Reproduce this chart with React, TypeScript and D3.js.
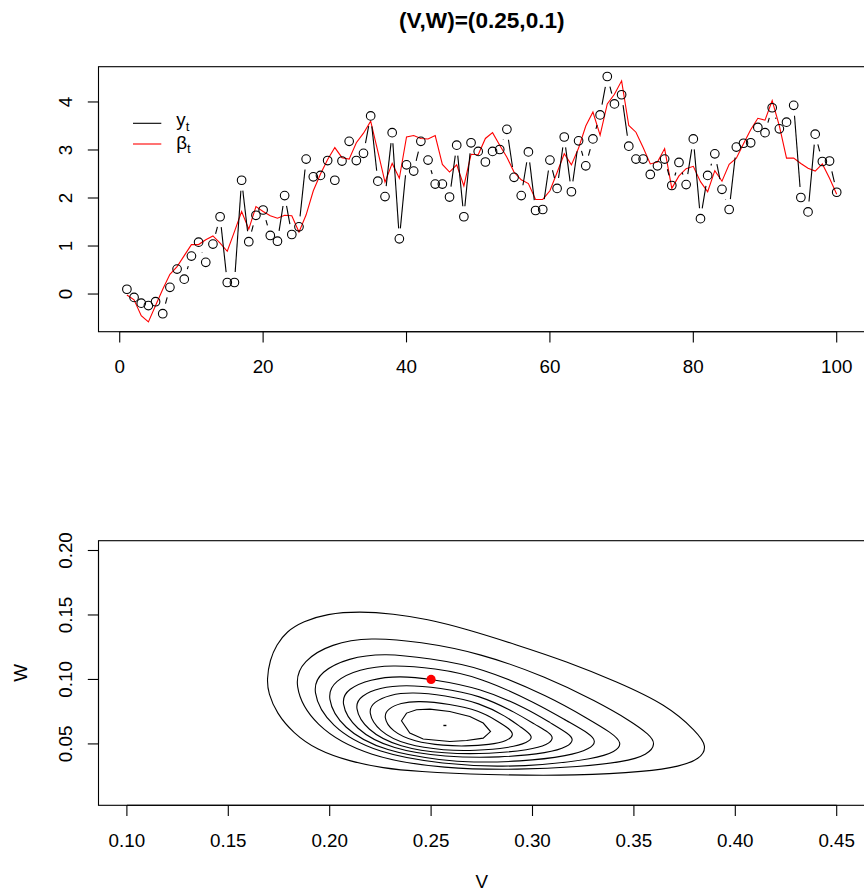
import React from "react";
import * as d3 from "d3";

const FONT = "'Liberation Sans', Arial, Helvetica, sans-serif";

// observed series y_t (circles, type "b")
const yObs = [
  0.10, -0.07, -0.19, -0.24, -0.16, -0.41, 0.14, 0.52, 0.31, 0.79,
  1.08, 0.66, 1.04, 1.61, 0.24, 0.24, 2.37, 1.09, 1.64, 1.75,
  1.22, 1.10, 2.05, 1.24, 1.40, 2.81, 2.44, 2.47, 2.78, 2.37,
  2.77, 3.18, 2.78, 2.93, 3.71, 2.35, 2.03, 3.36, 1.15, 2.69,
  2.56, 3.18, 2.79, 2.29, 2.29, 2.02, 3.10, 1.61, 3.15, 2.97,
  2.75, 2.97, 3.01, 3.43, 2.43, 2.05, 2.96, 1.74, 1.76, 2.79,
  2.20, 3.27, 2.13, 3.19, 2.67, 3.23, 3.73, 4.53, 3.96, 4.15,
  3.08, 2.81, 2.81, 2.49, 2.67, 2.81, 2.26, 2.74, 2.28, 3.23,
  1.57, 2.47, 2.92, 2.18, 1.76, 3.06, 3.14, 3.15, 3.47, 3.36,
  3.88, 3.44, 3.58, 3.93, 2.01, 1.71, 3.33, 2.76, 2.77, 2.12,
];

// state beta_t (red line)
const betaT = [
  -0.02, -0.12, -0.45, -0.58, -0.24, 0.10, 0.41, 0.57, 0.80, 1.03,
  1.03, 1.13, 1.21, 1.06, 0.89, 1.30, 1.72, 1.35, 1.82, 1.72,
  1.63, 1.58, 1.64, 1.63, 1.29, 1.65, 2.15, 2.50, 2.80, 3.05,
  2.84, 2.81, 3.15, 3.35, 3.60, 2.97, 2.33, 2.72, 2.41, 3.27,
  3.30, 3.24, 3.23, 3.30, 2.70, 2.54, 2.69, 2.25, 2.91, 2.90,
  3.24, 3.36, 3.10, 2.85, 2.54, 2.38, 2.30, 1.97, 1.97, 2.15,
  2.53, 2.92, 2.69, 3.04, 3.50, 3.79, 3.31, 3.96, 4.16, 4.44,
  3.51, 3.37, 3.05, 2.71, 2.75, 3.03, 2.20, 2.46, 2.61, 2.66,
  2.34, 2.13, 2.57, 2.35, 2.70, 2.83, 3.13, 3.42, 3.66, 3.62,
  4.03, 3.50, 2.83, 2.83, 2.72, 2.62, 2.56, 2.71, 2.41, 2.08,
];

const timeIdx = yObs.map((_, i) => i + 1);

const topXTicks = [0, 20, 40, 60, 80, 100];
const topYTicks = [0, 1, 2, 3, 4];
const vTicks = [0.1, 0.15, 0.2, 0.25, 0.3, 0.35, 0.4, 0.45];
const wTicks = [0.05, 0.1, 0.15, 0.2];

// grid ranges of the likelihood surface
const gridV = [0.1, 0.45];
const gridW = [0.01, 0.2];

const trueVW: [number, number] = [0.25, 0.1];
const mleVW: [number, number] = [0.2568, 0.0643];

// contour rings (V, W), outermost first
const ring1 = [
  [0.169, 0.1], [0.1705, 0.1153], [0.1738, 0.1269], [0.1787, 0.1372], [0.1869, 0.145],
  [0.1985, 0.151], [0.2149, 0.1528], [0.2313, 0.151], [0.2478, 0.1469], [0.2675, 0.1391],
  [0.2921, 0.1269], [0.3168, 0.114], [0.3414, 0.0984], [0.3661, 0.0804], [0.3809, 0.0596],
  [0.3863, 0.048], [0.3825, 0.0382], [0.3726, 0.0325], [0.3562, 0.0286], [0.3233, 0.0253],
  [0.2757, 0.026], [0.2428, 0.0286], [0.2264, 0.0312], [0.2099, 0.0364], [0.1935, 0.0454],
  [0.182, 0.0584], [0.1738, 0.0739], [0.1697, 0.0894],
];
const ring2 = [
  [0.1817, 0.0967], [0.1868, 0.1147], [0.2008, 0.1278], [0.2198, 0.1327], [0.2444, 0.1293],
  [0.274, 0.1205], [0.3069, 0.1019], [0.3316, 0.0829], [0.348, 0.0682], [0.3578, 0.0571],
  [0.3608, 0.0501], [0.357, 0.0416], [0.3447, 0.0359], [0.3233, 0.0323], [0.2937, 0.0299],
  [0.2568, 0.0307], [0.2193, 0.0395], [0.1917, 0.0637],
];
const ring3 = [
  [0.1907, 0.092], [0.1956, 0.1062], [0.209, 0.1167], [0.2272, 0.1205], [0.2494, 0.1161],
  [0.274, 0.1099], [0.3092, 0.086], [0.3268, 0.0699], [0.3391, 0.0586], [0.3444, 0.0506],
  [0.3411, 0.0439], [0.3307, 0.0385], [0.3036, 0.0334], [0.2839, 0.0323], [0.2568, 0.0342],
  [0.2237, 0.0423], [0.1996, 0.0633],
];
const ring4 = [
  [0.1981, 0.0866], [0.2024, 0.099], [0.2144, 0.1081], [0.2306, 0.1114], [0.2518, 0.1087],
  [0.274, 0.1021], [0.3028, 0.0808], [0.3172, 0.0676], [0.3283, 0.0579], [0.3316, 0.0519],
  [0.3283, 0.0462], [0.3184, 0.0408], [0.2937, 0.0361], [0.2691, 0.0357], [0.2568, 0.0371],
  [0.2274, 0.0437], [0.2059, 0.0618],
];
const ring5 = [
  [0.205, 0.0827], [0.209, 0.0928], [0.2198, 0.1002], [0.2346, 0.1029], [0.2499, 0.1003],
  [0.274, 0.0935], [0.2973, 0.0775], [0.309, 0.0662], [0.3179, 0.0579], [0.3205, 0.0532],
  [0.3174, 0.0478], [0.3085, 0.0431], [0.2839, 0.0392], [0.2568, 0.0398], [0.2309, 0.0455],
  [0.212, 0.0612],
];
const ring6 = [
  [0.2119, 0.0788], [0.2153, 0.0874], [0.2245, 0.0936], [0.2371, 0.0959], [0.2543, 0.0936],
  [0.274, 0.0879], [0.2923, 0.0738], [0.3014, 0.0649], [0.3085, 0.0586], [0.3105, 0.0545],
  [0.3076, 0.0493], [0.2987, 0.0454], [0.279, 0.0423], [0.2568, 0.0423], [0.2343, 0.0472],
  [0.2179, 0.0606],
];
const ring7 = [
  [0.2187, 0.0749], [0.2216, 0.0825], [0.2296, 0.0882], [0.2405, 0.0902], [0.2568, 0.0877],
  [0.274, 0.0819], [0.2873, 0.0711], [0.2942, 0.063], [0.3008, 0.0558], [0.2977, 0.0509],
  [0.2888, 0.047], [0.2716, 0.0447], [0.2568, 0.0449], [0.2377, 0.0489], [0.2238, 0.0599],
];
const ring8 = [
  [0.2264, 0.0711], [0.2287, 0.0773], [0.2349, 0.0818], [0.2435, 0.0835], [0.2592, 0.0811],
  [0.274, 0.0757], [0.2824, 0.068], [0.2888, 0.0617], [0.2909, 0.0571], [0.2878, 0.0524],
  [0.279, 0.0493], [0.2666, 0.0482], [0.2568, 0.0486], [0.2416, 0.0516], [0.2304, 0.0598],
];
const ring9 = [
  [0.2354, 0.068], [0.2379, 0.0739], [0.2428, 0.0765], [0.2494, 0.077], [0.2592, 0.0752],
  [0.2691, 0.0713], [0.2757, 0.0662], [0.2793, 0.0596], [0.2757, 0.0545], [0.2675, 0.0527],
  [0.2592, 0.0519], [0.2461, 0.0538], [0.2395, 0.0584],
];
const contourRings = [ring1, ring2, ring3, ring4, ring5, ring6, ring7, ring8, ring9];

// R style axis range: data range padded 4% each side
const pad4 = (lo: number, hi: number) => {
  const d = (hi - lo) * 0.04;
  return [lo - d, hi + d];
};

export default function App() {
  const width = 864;
  const height = 893;
  const fs = 18.8;

  // plot regions
  const top = { left: 98.5, right: 865.1, top: 66.7, bottom: 331.7 };
  const bot = { left: 98.5, right: 865.1, top: 540.7, bottom: 805.3 };

  const xT = d3.scaleLinear().domain(pad4(1, timeIdx.length)).range([top.left, top.right]);
  const allY = yObs.concat(betaT);
  const yT = d3.scaleLinear().domain(pad4(d3.min(allY)!, d3.max(allY)!)).range([top.bottom, top.top]);
  const xB = d3.scaleLinear().domain(pad4(gridV[0], gridV[1])).range([bot.left, bot.right]);
  const yB = d3.scaleLinear().domain(pad4(gridW[0], gridW[1])).range([bot.bottom, bot.top]);

  // type = "b": segments with gaps around the points
  const gap = 10.5;
  const pts = timeIdx.map((t, i) => [xT(t), yT(yObs[i])]);
  const segs: number[][] = [];
  for (let i = 0; i < pts.length - 1; i++) {
    const [x0, y0] = pts[i];
    const [x1, y1] = pts[i + 1];
    const dx = x1 - x0, dy = y1 - y0;
    const L = Math.hypot(dx, dy);
    if (L > 2 * gap) {
      const ux = dx / L, uy = dy / L;
      segs.push([x0 + ux * gap, y0 + uy * gap, x1 - ux * gap, y1 - uy * gap]);
    }
  }

  const betaLine = d3.line<number>()
    .x((_, i) => xT(timeIdx[i]))
    .y((d) => yT(d));

  // smooth the read-off rings; innermost one is a coarse polygon
  const ringLine = d3.line<number[]>()
    .x((d) => xB(d[0]))
    .y((d) => yB(d[1]))
    .curve(d3.curveBasisClosed);
  const polyLine = d3.line<number[]>()
    .x((d) => xB(d[0]))
    .y((d) => yB(d[1]))
    .curve(d3.curveLinearClosed);

  const tick = 10.7;
  const f2 = d3.format(".2f");

  return (
    <div style={{ position: "absolute", left: 0, top: 0 }}>
      <svg width={width} height={height} style={{ display: "block", background: "#fff" }} fontFamily={FONT}>
        <rect x={0} y={0} width={width} height={height} fill="#fff" />

        {/* title */}
        <text x={(top.left + top.right) / 2} y={28} textAnchor="middle" fontWeight="bold" fontSize={22.6}>
          (V,W)=(0.25,0.1)
        </text>

        {/* ---------- top panel ---------- */}
        <g>
          <path d={betaLine(betaT) || ""} fill="none" stroke="#ff0000" strokeWidth={1.1} />
          {segs.map((s, i) => (
            <line key={i} x1={s[0]} y1={s[1]} x2={s[2]} y2={s[3]} stroke="#000" strokeWidth={1.1} />
          ))}
          {pts.map((p, i) => (
            <circle key={i} cx={p[0]} cy={p[1]} r={4.3} fill="none" stroke="#000" strokeWidth={1.1} />
          ))}

          <rect x={top.left} y={top.top} width={top.right - top.left} height={top.bottom - top.top}
            fill="none" stroke="#000" strokeWidth={1.1} />

          {/* x axis */}
          <line x1={xT(topXTicks[0])} x2={xT(topXTicks[topXTicks.length - 1])} y1={top.bottom} y2={top.bottom} stroke="#000" strokeWidth={1.1} />
          {topXTicks.map((t) => (
            <g key={t}>
              <line x1={xT(t)} x2={xT(t)} y1={top.bottom} y2={top.bottom + tick} stroke="#000" strokeWidth={1.1} />
              <text x={xT(t)} y={top.bottom + 41.4} textAnchor="middle" fontSize={fs}>{t}</text>
            </g>
          ))}
          {/* y axis */}
          <line x1={top.left} x2={top.left} y1={yT(topYTicks[0])} y2={yT(topYTicks[topYTicks.length - 1])} stroke="#000" strokeWidth={1.1} />
          {topYTicks.map((v) => (
            <g key={v}>
              <line x1={top.left - tick} x2={top.left} y1={yT(v)} y2={yT(v)} stroke="#000" strokeWidth={1.1} />
              <text transform={`translate(${top.left - 26.5},${yT(v)}) rotate(-90)`} textAnchor="middle" fontSize={fs}>{v}</text>
            </g>
          ))}

          {/* legend */}
          <line x1={133} x2={161.3} y1={123.3} y2={123.3} stroke="#000" strokeWidth={1.1} />
          <line x1={133} x2={161.3} y1={144} y2={144} stroke="#ff0000" strokeWidth={1.1} />
          <text x={176.3} y={126} fontSize={fs}>
            y<tspan dy={4.5} fontSize={13.2}>t</tspan>
          </text>
          <text x={176.3} y={148.5} fontSize={fs}>
            β<tspan dy={4.5} fontSize={13.2}>t</tspan>
          </text>
        </g>

        {/* ---------- bottom panel ---------- */}
        <g>
          {contourRings.map((r, i) => (
            <path key={i} d={(i === contourRings.length - 1 ? polyLine(r) : ringLine(r)) || ""}
              fill="none" stroke="#000" strokeWidth={1.1} />
          ))}
          <line x1={xB(mleVW[0]) - 1.5} x2={xB(mleVW[0]) + 1.5} y1={yB(mleVW[1])} y2={yB(mleVW[1])} stroke="#000" strokeWidth={1.4} />
          <circle cx={xB(trueVW[0])} cy={yB(trueVW[1])} r={4.6} fill="#ff0000" />

          <rect x={bot.left} y={bot.top} width={bot.right - bot.left} height={bot.bottom - bot.top}
            fill="none" stroke="#000" strokeWidth={1.1} />

          <line x1={xB(vTicks[0])} x2={xB(vTicks[vTicks.length - 1])} y1={bot.bottom} y2={bot.bottom} stroke="#000" strokeWidth={1.1} />
          {vTicks.map((v) => (
            <g key={v}>
              <line x1={xB(v)} x2={xB(v)} y1={bot.bottom} y2={bot.bottom + tick} stroke="#000" strokeWidth={1.1} />
              <text x={xB(v)} y={bot.bottom + 41.4} textAnchor="middle" fontSize={fs}>{f2(v)}</text>
            </g>
          ))}
          <line x1={bot.left} x2={bot.left} y1={yB(wTicks[0])} y2={yB(wTicks[wTicks.length - 1])} stroke="#000" strokeWidth={1.1} />
          {wTicks.map((v) => (
            <g key={v}>
              <line x1={bot.left - tick} x2={bot.left} y1={yB(v)} y2={yB(v)} stroke="#000" strokeWidth={1.1} />
              <text transform={`translate(${bot.left - 26.5},${yB(v)}) rotate(-90)`} textAnchor="middle" fontSize={fs}>{f2(v)}</text>
            </g>
          ))}

          <text x={(bot.left + bot.right) / 2} y={888} textAnchor="middle" fontSize={fs}>V</text>
          <text transform={`translate(26.5,${(bot.top + bot.bottom) / 2}) rotate(-90)`} textAnchor="middle" fontSize={fs}>W</text>
        </g>
      </svg>
    </div>
  );
}
